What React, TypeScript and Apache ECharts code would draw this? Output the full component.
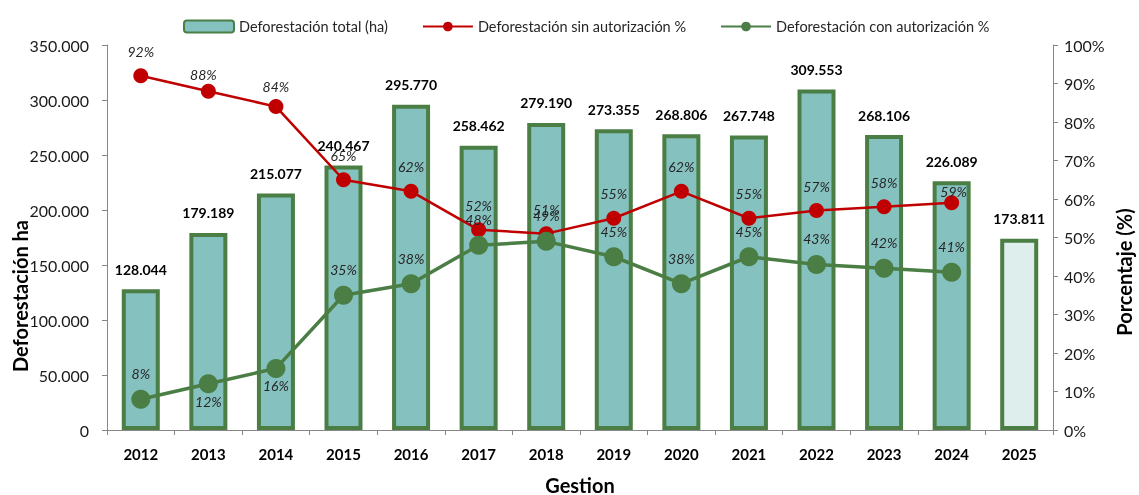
import React, { useEffect, useRef } from "react";
import * as echarts from "echarts";

const years = ["2012", "2013", "2014", "2015", "2016", "2017", "2018", "2019", "2020", "2021", "2022", "2023", "2024", "2025"];
const totalHa = [128044, 179189, 215077, 240467, 295770, 258462, 279190, 273355, 268806, 267748, 309553, 268106, 226089, 173811];
const sinAutorizacion = [92, 88, 84, 65, 62, 52, 51, 55, 62, 55, 57, 58, 59, null];
const conAutorizacion = [8, 12, 16, 35, 38, 48, 49, 45, 38, 45, 43, 42, 41, null];

const FONT = "Lato, 'Liberation Sans', sans-serif";
const GREEN = "#4b7e44";
const RED = "#c00000";
const TEAL = "#85c1bf";
const LIGHT = "#ddeeed";

const fmtThousands = (n: number) => String(n).replace(/\B(?=(\d{3})+(?!\d))/g, ".");

export default function App() {
  const ref = useRef<HTMLDivElement>(null);
  useEffect(() => {
    if (!ref.current) return;
    const chart = echarts.init(ref.current, undefined, { renderer: "svg" });

    const pctLabel = {
      show: true,
      formatter: (p: any) => (p.value == null ? "" : p.value + "%"),
      fontFamily: FONT,
      fontStyle: "italic",
      fontSize: 14,
      color: "#262626",
    };

    const redData = sinAutorizacion.map((v, i) => {
      const item: any = { value: v };
      if (i === 12) item.label = { position: "top", distance: -3, offset: [2, 0] };
      if (i === 1) item.label = { position: "top", distance: 2, offset: [-5, 0] };
      if (i === 2) item.label = { position: "top", distance: 6 };
      return item;
    });
    const greenData = conAutorizacion.map((v, i) => {
      const item: any = { value: v };
      if (i === 1 || i === 2) item.label = { position: "bottom", distance: 1 };
      return item;
    });
    const barData = totalHa.map((v, i) => {
      const item: any = { value: v };
      if (i === totalHa.length - 1) item.itemStyle = { color: LIGHT };
      return item;
    });

    chart.setOption({
      animation: false,
      textStyle: { fontFamily: FONT },
      legend: {
        left: 178,
        top: 14,
        itemWidth: 50,
        itemHeight: 12,
        itemGap: 34,
        textStyle: { fontFamily: FONT, fontSize: 14.5, color: "#262626" },
        data: ["Deforestación total (ha)", "Deforestación sin autorización %", "Deforestación con autorización %"],
      },
      grid: { left: 107, right: 86, top: 45, bottom: 65, containLabel: false },
      xAxis: {
        type: "category",
        data: years,
        axisLine: { lineStyle: { color: "#878787", width: 1 } },
        axisTick: { show: true, length: 5, lineStyle: { color: "#878787" } },
        axisLabel: { fontFamily: FONT, fontWeight: "bold", fontSize: 15, color: "#000", margin: 16 },
      },
      yAxis: [
        {
          type: "value",
          min: 0,
          max: 350000,
          interval: 50000,
          splitLine: { show: false },
          axisLine: { show: true, lineStyle: { color: "#878787" } },
          axisTick: { show: true, length: 5, lineStyle: { color: "#878787" } },
          axisLabel: { fontFamily: FONT, fontSize: 16, color: "#1a1a1a", margin: 18, formatter: (v: number) => fmtThousands(v) },
        },
        {
          type: "value",
          min: 0,
          max: 100,
          interval: 10,
          position: "right",
          splitLine: { show: false },
          axisLine: { show: true, lineStyle: { color: "#878787" } },
          axisTick: { show: true, length: 5, lineStyle: { color: "#878787" } },
          axisLabel: { fontFamily: FONT, fontSize: 16, color: "#1a1a1a", margin: 11, formatter: "{value}%" },
        },
      ],
      graphic: [
        {
          type: "text",
          x: 20,
          y: 296,
          rotation: Math.PI / 2,
          style: { text: "Deforestación ha", fontFamily: FONT, fontWeight: "bold", fontSize: 20, fill: "#000", textAlign: "center", textVerticalAlign: "middle" },
        },
        {
          type: "text",
          x: 1124,
          y: 272,
          rotation: Math.PI / 2,
          style: { text: "Porcentaje (%)", fontFamily: FONT, fontWeight: "bold", fontSize: 20, fill: "#000", textAlign: "center", textVerticalAlign: "middle" },
        },
        {
          type: "text",
          x: 580,
          y: 485,
          style: { text: "Gestion", fontFamily: FONT, fontWeight: "bold", fontSize: 20, fill: "#000", textAlign: "center", textVerticalAlign: "middle" },
        },
      ],
      series: [
        {
          name: "Deforestación total (ha)",
          type: "bar",
          data: barData,
          barWidth: 38,
          itemStyle: { color: TEAL, borderColor: GREEN, borderWidth: 4 },
          label: {
            show: true,
            position: "top",
            distance: 13,
            fontFamily: FONT,
            fontWeight: "bold",
            fontSize: 14,
            color: "#000",
            formatter: (p: any) => fmtThousands(p.value),
          },
        },
        {
          name: "Deforestación sin autorización %",
          type: "line",
          yAxisIndex: 1,
          data: redData,
          symbol: "circle",
          symbolSize: 15,
          lineStyle: { color: RED, width: 2.5 },
          itemStyle: { color: RED },
          label: { ...pctLabel, position: "top", distance: 10 },
        },
        {
          name: "Deforestación con autorización %",
          type: "line",
          yAxisIndex: 1,
          data: greenData,
          symbol: "circle",
          symbolSize: 19,
          lineStyle: { color: GREEN, width: 3.5 },
          itemStyle: { color: GREEN },
          label: { ...pctLabel, position: "top", distance: 9 },
        },
      ],
    });
    return () => chart.dispose();
  }, []);
  return <div ref={ref} style={{ position: "fixed", left: 0, top: 0, width: 1139, height: 495 }} />;
}
